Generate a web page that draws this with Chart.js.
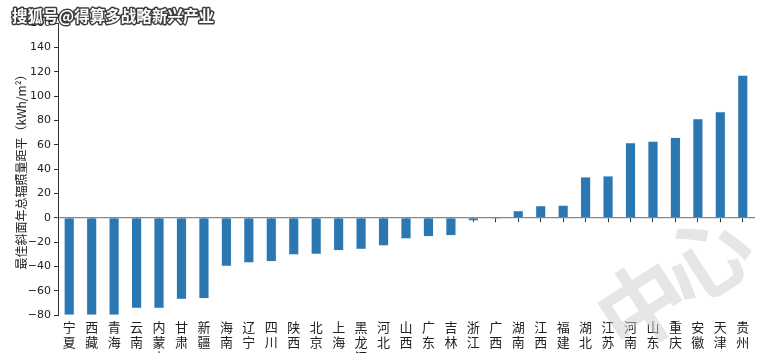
<!DOCTYPE html>
<html>
<head>
<meta charset="utf-8">
<script src="https://cdn.jsdelivr.net/npm/chart.js@4"></script>
<style>
html,body{margin:0;padding:0;background:#fff;overflow:hidden;}
#wrap{position:relative;width:763px;height:353px;}
canvas{display:block;}
</style>
</head>
<body>
<div id="wrap"><canvas id="c" width="763" height="353"></canvas></div>
<script>
const provinces = ['宁夏','西藏','青海','云南','内蒙古','甘肃','新疆','海南','辽宁','四川','陕西','北京','上海','黑龙江','河北','山西','广东','吉林','浙江','广西','湖南','江西','福建','湖北','江苏','河南','山东','重庆','安徽','天津','贵州'];
const anomaly = [-80,-80,-80,-74.5,-74.5,-67,-66.4,-40,-37,-36,-30.5,-30,-27,-26,-23,-17.4,-15.5,-14.7,-2.5,-1,5.7,9.8,10.3,33.5,34.3,61.5,62.9,65.9,81.4,87.1,117];
const yTicks = [-80,-60,-40,-20,0,20,40,60,80,100,120,140,160];
const yTitle = '最佳斜面年总辐照量距平（kWh/m²）';
const watermark = '搜狐号@得算多战略新兴产业';

const cjk = "'Noto Sans CJK SC', 'DejaVu Sans', sans-serif";
const labels = provinces.map(p => p.split(''));

const overlay = {
  id: 'overlay',
  afterDraw(chart) {
    const ctx = chart.ctx;
    ctx.save();
    ctx.fillStyle = 'rgba(205,205,205,0.5)';
    ctx.font = "bold 88px " + cjk;
    ctx.textAlign = 'center';
    ctx.textBaseline = 'middle';
    [['中', 642, 305], ['心', 706, 258]].forEach(([t, x, y]) => {
      ctx.save();
      ctx.translate(x, y);
      ctx.rotate(-33 * Math.PI / 180);
      ctx.fillText(t, 0, 0);
      ctx.restore();
    });
    ctx.font = "bold 16px " + cjk;
    ctx.textAlign = 'left';
    ctx.textBaseline = 'alphabetic';
    ctx.lineJoin = 'round';
    ctx.lineWidth = 3;
    ctx.strokeStyle = 'rgba(40,40,40,0.9)';
    ctx.strokeText(watermark, 12, 22, 202);
    ctx.fillStyle = '#ffffff';
    ctx.fillText(watermark, 12, 22, 202);
    ctx.restore();
  }
};

new Chart(document.getElementById('c'), {
  type: 'bar',
  data: {
    labels: labels,
    datasets: [{
      data: anomaly,
      backgroundColor: '#2b77b1',
      borderColor: 'rgba(160,200,230,0.6)',
      borderWidth: 0.5,
      categoryPercentage: 1,
      barPercentage: 0.45
    }]
  },
  options: {
    responsive: false,
    animation: false,
    devicePixelRatio: 1,
    events: [],
    layout: { padding: { left: 10, right: 9, top: 23, bottom: 0 } },
    plugins: { legend: { display: false }, tooltip: { enabled: false } },
    scales: {
      x: {
        type: 'category',
        grid: { display: false, drawTicks: false },
        border: { display: false },
        ticks: { color: '#222', font: { family: cjk, size: 13, lineHeight: 1.15 }, padding: 5, maxRotation: 0, autoSkip: false },
        afterFit(s) { s.height = 38; }
      },
      x2: {
        type: 'category',
        axis: 'x',
        labels: provinces,
        position: { y: 0 },
        z: 1,
        ticks: { display: false },
        grid: { display: true, drawOnChartArea: false, drawTicks: true, tickLength: 4, tickColor: '#333', offset: false },
        border: { display: true, color: '#888', width: 1.2 }
      },
      y: {
        min: -80,
        max: 160,
        afterBuildTicks(s) { s.ticks = yTicks.map(v => ({ value: v })); },
        ticks: {
          color: '#222',
          font: { family: "'DejaVu Sans', sans-serif", size: 11 },
          padding: 3,
          callback: v => String(v).replace('-', '\u2212')
        },
        grid: { display: true, drawOnChartArea: false, drawTicks: true, tickLength: 4, tickColor: '#333' },
        border: { display: true, color: '#333', width: 1 },
        title: { display: true, text: yTitle, color: '#222', font: { family: cjk, size: 12 }, padding: { top: 4, bottom: 4 } },
        afterFit(s) { s.width = 48; }
      }
    }
  },
  plugins: [overlay]
});
</script>
</body>
</html>
